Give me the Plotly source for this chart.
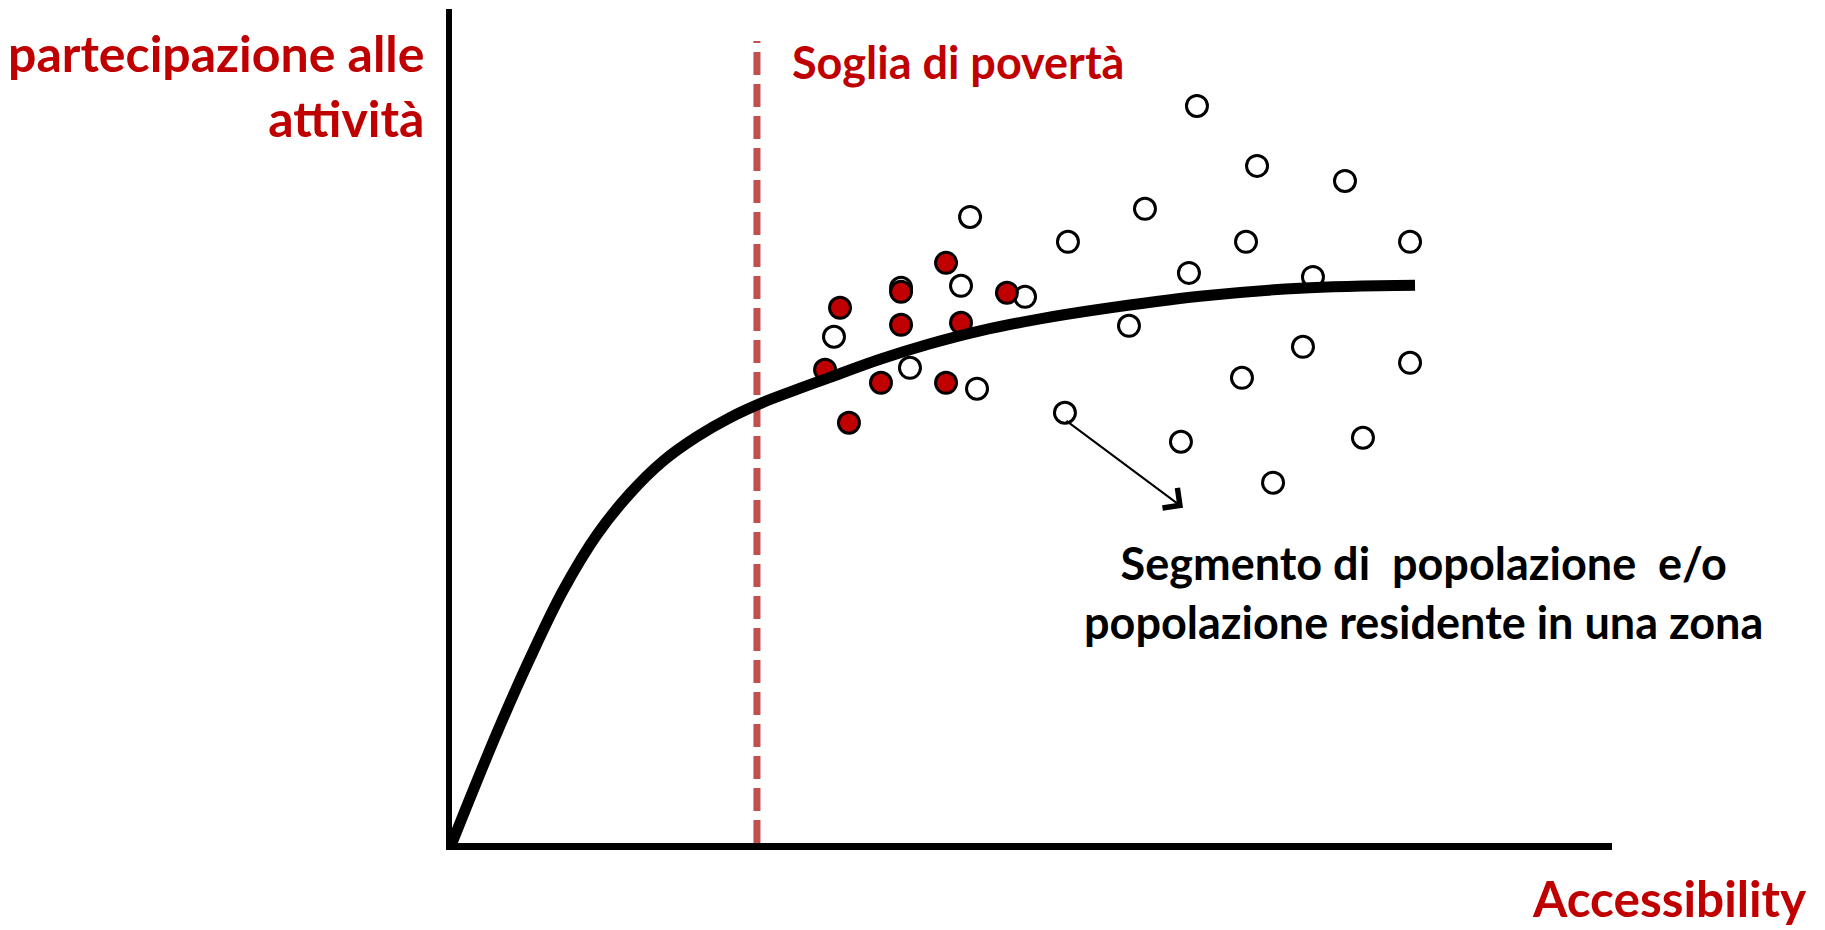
import plotly.graph_objects as go

# ---- data (arbitrary units: accessibility 0-100, participation 0-100) ----
curve_x = [0.0, 3.88, 6.72, 9.57, 12.50, 15.34, 18.19, 21.12, 23.97, 26.81, 29.74,
           32.59, 36.90, 41.21, 45.52, 50.69, 55.86, 64.48, 73.10, 83.02]
curve_y = [0.0, 13.24, 22.13, 30.25, 36.97, 41.91, 45.79, 48.72, 51.01, 52.83, 54.38,
           55.84, 58.00, 59.86, 61.41, 62.85, 64.00, 65.56, 66.52, 66.87]

white_x = [44.66, 53.10, 43.88, 38.71, 49.40, 32.93, 39.48, 45.26, 52.84, 64.22, 69.40, 76.98,
           59.74, 68.45, 82.59, 63.53, 74.22, 58.36, 73.36, 82.59, 68.10, 62.84, 78.53, 70.78]
white_y = [75.07, 72.08, 66.81, 66.57, 65.49, 60.70, 56.98, 54.47, 51.59, 88.38, 81.19, 79.39,
           76.04, 72.08, 72.08, 68.36, 67.88, 62.01, 59.50, 57.58, 55.78, 48.11, 48.59, 43.20]

red_x = [42.59, 38.71, 47.84, 33.45, 38.71, 43.88, 32.16, 36.98, 42.59, 34.22]
red_y = [69.56, 66.09, 65.97, 64.17, 62.13, 62.37, 56.74, 55.18, 55.18, 50.39]

threshold_x = [26.29, 26.29]
threshold_y = [0.0, 96.16]

arrow_from = (52.84, 50.75)
arrow_to = (63.02, 40.20)

y_label = "partecipazione alle<br>attività"
x_label = "Accessibility"
threshold_label = "Soglia di povertà"
segment_label = "Segmento di&nbsp;&nbsp;popolazione&nbsp;&nbsp;e/o<br>popolazione residente in una zona"

RED = "#C00000"
DASH_RED = "#C0504D"
FONT = "Lato"

fig = go.Figure()

fig.add_trace(go.Scatter(
    x=threshold_x, y=threshold_y, mode="lines",
    line=dict(color=DASH_RED, width=7, dash="23px,9px"),
    hoverinfo="skip", showlegend=False))

fig.add_trace(go.Scatter(
    x=white_x, y=white_y, mode="markers",
    marker=dict(size=21, color="white", line=dict(color="black", width=3)),
    showlegend=False))

fig.add_trace(go.Scatter(
    x=red_x, y=red_y, mode="markers",
    marker=dict(size=21, color=RED, line=dict(color="black", width=3)),
    showlegend=False))

fig.add_trace(go.Scatter(
    x=curve_x, y=curve_y, mode="lines",
    line=dict(color="black", width=11, shape="spline", smoothing=1.0),
    cliponaxis=False, showlegend=False))

annotations = [
    dict(x=arrow_to[0], y=arrow_to[1], ax=arrow_from[0], ay=arrow_from[1],
         xref="x", yref="y", axref="x", ayref="y", text="", showarrow=True,
         arrowhead=4, arrowsize=2.4, arrowwidth=2, arrowcolor="black"),
    dict(x=-0.0224, y=0.908, xref="paper", yref="paper", text=y_label,
         showarrow=False, xanchor="right", yanchor="middle", align="right",
         font=dict(family=FONT, size=50, color=RED, weight="bold")),
    dict(x=0.2914, y=0.937, xref="paper", yref="paper", text=threshold_label,
         showarrow=False, xanchor="left", yanchor="middle",
         font=dict(family=FONT, size=45, color=RED, weight="bold")),
    dict(x=0.8379, y=0.300, xref="paper", yref="paper", text=segment_label,
         showarrow=False, xanchor="center", yanchor="middle", align="center",
         font=dict(family=FONT, size=45, color="black", weight="bold")),
    dict(x=1.170, y=-0.0665, xref="paper", yref="paper", text=x_label,
         showarrow=False, xanchor="right", yanchor="middle",
         font=dict(family=FONT, size=49.5, color=RED, weight="bold")),
]

fig.update_layout(
    width=1825, height=930,
    margin=dict(l=452, r=213, t=9, b=86.5),
    paper_bgcolor="white", plot_bgcolor="white",
    annotations=annotations,
    xaxis=dict(range=[0, 100], showgrid=False, zeroline=False, showticklabels=False,
               ticks="", showline=True, linecolor="black", linewidth=7, fixedrange=True),
    yaxis=dict(range=[0, 100], showgrid=False, zeroline=False, showticklabels=False,
               ticks="", showline=True, linecolor="black", linewidth=6, fixedrange=True),
)

fig.write_html("out.html", config={"displayModeBar": False},
               post_script="document.body.style.margin='0';document.body.style.overflow='hidden';")
